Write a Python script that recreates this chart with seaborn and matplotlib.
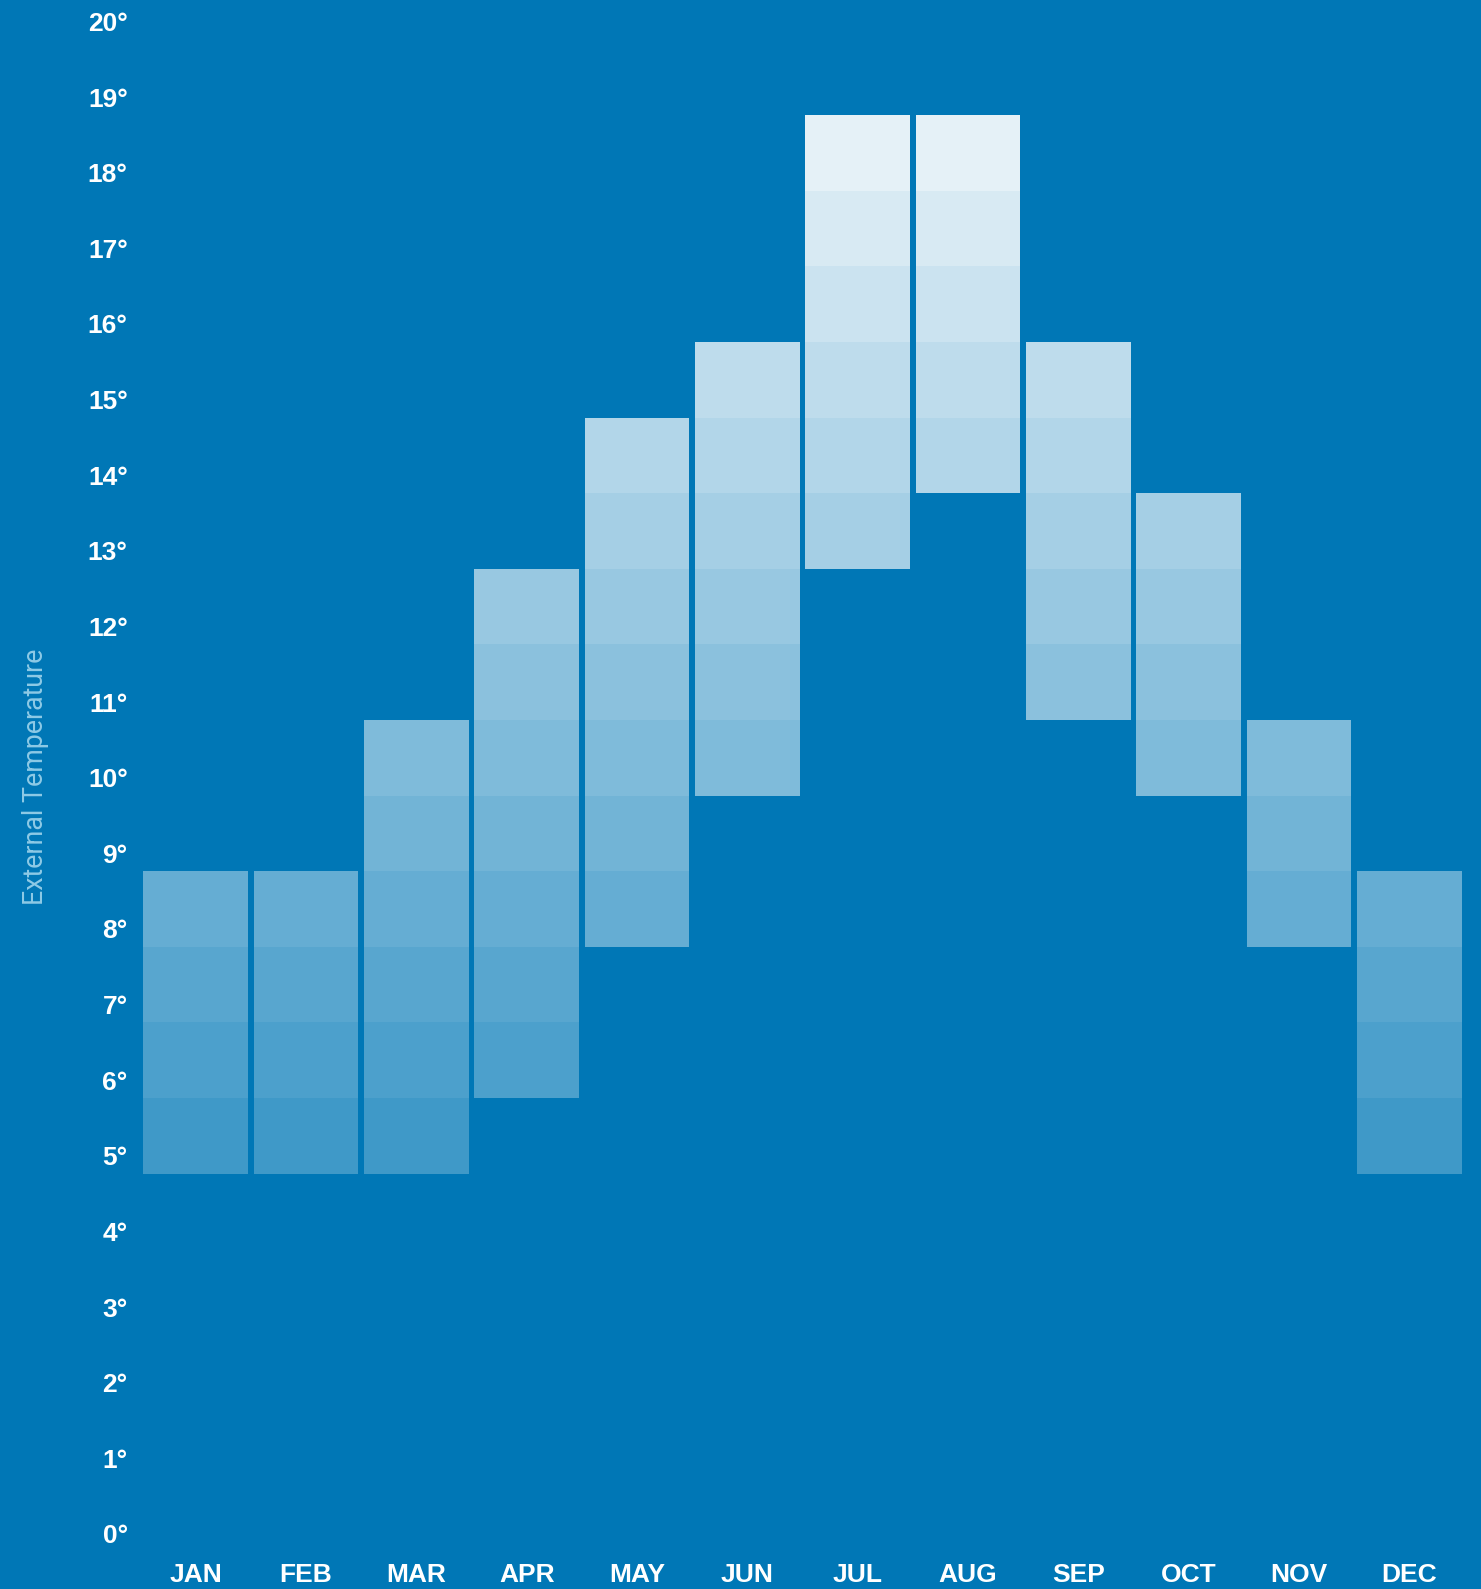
import matplotlib
matplotlib.use("Agg")
import matplotlib.pyplot as plt
from matplotlib import transforms
import pandas as pd
import seaborn as sns

# ---- data -------------------------------------------------------------
months = ["JAN", "FEB", "MAR", "APR", "MAY", "JUN",
          "JUL", "AUG", "SEP", "OCT", "NOV", "DEC"]
t_min = [5, 5, 5, 6, 8, 10, 13, 14, 11, 10, 8, 5]
t_max = [9, 9, 11, 13, 15, 16, 19, 19, 16, 14, 11, 9]
y_ticks = list(range(0, 21))
y_tick_labels = [f"{v}°" for v in y_ticks]
y_title = "External Temperature"

# ---- style ------------------------------------------------------------
BG = "#0077b6"
sns.set_theme(style="white")
plt.rcParams["font.family"] = ["Liberation Sans", "DejaVu Sans"]

W, H = 1481, 1589
fig = plt.figure(figsize=(W / 100, H / 100), dpi=100, facecolor=BG)
left_px, right_px = 140.6, 1464.4
top_px, bottom_px = 39.4, 1551.8
ax = fig.add_axes([left_px / W, 1 - bottom_px / H,
                   (right_px - left_px) / W, (bottom_px - top_px) / H])
ax.set_facecolor(BG)

# one layer of one-degree cells per temperature level
for d in range(0, 20):
    sel = [m for m, lo, hi in zip(months, t_min, t_max) if lo <= d < hi]
    if not sel:
        continue
    df = pd.DataFrame({"month": sel, "h": [1] * len(sel)})
    sns.barplot(data=df, x="month", y="h", order=months, bottom=d,
                width=0.95, color="white", alpha=d / 20, saturation=1,
                linewidth=0, errorbar=None, ax=ax)

ax.set_xlim(-0.5, len(months) - 0.5)
ax.set_ylim(0, 20)
ax.set_xlabel("")
ax.set_ylabel("")
for s in ax.spines.values():
    s.set_visible(False)
ax.grid(False)

ax.set_yticks(y_ticks, labels=y_tick_labels)
ax.tick_params(axis="y", length=0, pad=9.3, labelsize=19, labelcolor="white")
ax.tick_params(axis="x", length=0, pad=8.0, labelsize=19, labelcolor="white")
for lab in ax.get_xticklabels() + ax.get_yticklabels():
    lab.set_fontweight("bold")
off = transforms.ScaledTranslation(0, 8.4 / 100, fig.dpi_scale_trans)
for lab in ax.get_yticklabels():
    lab.set_verticalalignment("baseline")
    lab.set_transform(lab.get_transform() + off)

fig.text(43.5 / W, 1 - 777 / H, y_title, rotation=90, rotation_mode="anchor",
         ha="center", va="baseline",
         color="#8ecae6", fontsize=19.3, family=["Roboto", "DejaVu Sans"],
         fontweight="normal")

fig.savefig("out.png", dpi=100, facecolor=BG)
